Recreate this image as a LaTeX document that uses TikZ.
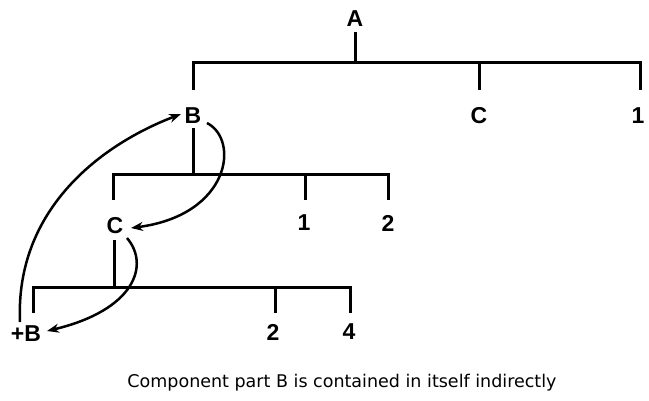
\documentclass[tikz,border=0pt]{standalone}
\usepackage{fontspec}
\setmainfont{Liberation Sans}
\newfontfamily\capfont{DejaVu Sans}
\usetikzlibrary{arrows.meta}
\begin{document}
\begin{tikzpicture}[x=1pt,y=-1pt,
  lbl/.style={font=\fontsize{23}{25}\selectfont\bfseries, inner sep=0pt},
  tree/.style={line width=3pt},
  link/.style={line width=2.5pt, -{Stealth[length=12pt,width=9pt]}}]
\useasboundingbox (0,0) rectangle (649,400);
% labels
\node[lbl] (A) at (355,19) {A};
\node[lbl] (B1) at (193,116) {B};
\node[lbl] (C1) at (479,116) {C};
\node[lbl] (n11) at (638,116) {1};
\node[lbl] (C2) at (115,226) {C};
\node[lbl] (n12) at (304,223) {1};
\node[lbl] (n22) at (388,223) {2};
\node[lbl] (B3) at (26,334) {+B};
\node[lbl] (n23) at (273,332) {2};
\node[lbl] (n43) at (349,332) {4};
\node[font=\capfont\fontsize{17.5}{20}\selectfont, inner sep=0pt] (cap) at (342,383) {Component part B is contained in itself indirectly};
% level 1
\draw[tree] (355,32) -- (355,62);
\draw[tree] (193,90) -- (193,62) -- (640,62) -- (640,90);
\draw[tree] (479,62) -- (479,90);
% level 2
\draw[tree] (193,128) -- (193,174);
\draw[tree] (113,200) -- (113,174) -- (388,174) -- (388,200);
\draw[tree] (305,174) -- (305,200);
% level 3
\draw[tree] (114,240) -- (114,287);
\draw[tree] (33,313) -- (33,287) -- (350,287) -- (350,313);
\draw[tree] (275,287) -- (275,313);
% links
\coordinate (s1) at (20,322);
\coordinate (e1) at (181,114);
\draw[link] (s1) .. controls (15,210) and (100,145) .. (e1);
\coordinate (s2) at (207,123);
\coordinate (e2) at (131,228);
\draw[link] (s2) .. controls (240,140) and (230,215) .. (e2);
\coordinate (s3) at (127,238);
\coordinate (e3) at (47,331);
\draw[link] (s3) .. controls (150,265) and (135,310) .. (e3);
\end{tikzpicture}
\end{document}
